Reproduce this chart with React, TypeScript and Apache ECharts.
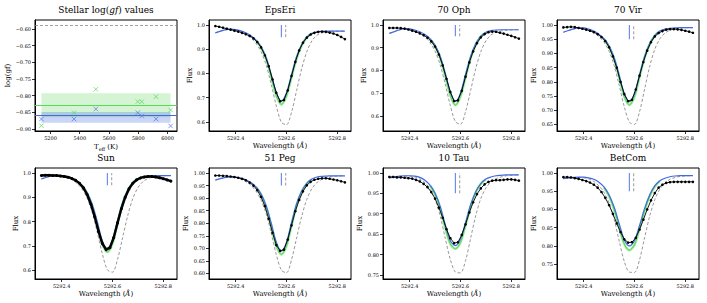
import React, { useEffect, useRef } from "react";
import * as echarts from "echarts";

// ---------- data ----------
const TEFF = [5138, 5361, 5510, 5797, 5824, 5922, 6021];
const LOGGF_GREEN = [-0.89, -0.851, -0.781, -0.818, -0.818, -0.803, -0.843];
const LOGGF_BLUE = [-0.87, -0.87, -0.84, -0.851, -0.861, -0.87, -0.891];
const GREEN_MEAN = -0.829;
const GREEN_BAND = [-0.865, -0.793];
const BLUE_MEAN = -0.865;
const BLUE_BAND = [-0.881, -0.849];
const LOGGF_REF = -0.588;
const TEFF_TICKS = [5200, 5400, 5600, 5800, 6000];
const LOGGF_TICKS = [-0.9, -0.85, -0.8, -0.75, -0.7, -0.65, -0.6];

const WL_TICKS = [5292.4, 5292.6, 5292.8];
const FIT_CENTER = 5292.58;
const LAB_CENTER = 5292.597;
const MARK_SPAN = [0.95, 1.0];

const WL_OBS = [5292.32, 5292.335, 5292.35, 5292.365, 5292.38, 5292.395, 5292.41, 5292.425, 5292.44, 5292.455, 5292.47, 5292.485, 5292.5, 5292.515, 5292.53, 5292.545, 5292.56, 5292.575, 5292.59, 5292.605, 5292.62, 5292.635, 5292.65, 5292.665, 5292.68, 5292.695, 5292.71, 5292.725, 5292.74, 5292.755, 5292.77, 5292.785, 5292.8, 5292.815, 5292.83];
const WL_MOD = [5292.32, 5292.34, 5292.36, 5292.38, 5292.4, 5292.42, 5292.44, 5292.46, 5292.48, 5292.5, 5292.52, 5292.54, 5292.56, 5292.58, 5292.6, 5292.62, 5292.64, 5292.66, 5292.68, 5292.7, 5292.72, 5292.74, 5292.76, 5292.78, 5292.8, 5292.82, 5292.83];
const WL_CORE = [5292.48, 5292.5, 5292.52, 5292.54, 5292.56, 5292.58, 5292.6, 5292.62, 5292.64, 5292.66, 5292.68, 5292.7];

const STARS = ["EpsEri", "70 Oph", "70 Vir", "Sun", "51 Peg", "10 Tau", "BetCom"];

const EPSERI_OBS = [0.996, 0.993, 0.989, 0.985, 0.981, 0.977, 0.973, 0.968, 0.962, 0.955, 0.945, 0.93, 0.908, 0.875, 0.83, 0.775, 0.72, 0.685, 0.69, 0.73, 0.79, 0.848, 0.895, 0.927, 0.948, 0.961, 0.968, 0.972, 0.973, 0.972, 0.969, 0.965, 0.959, 0.951, 0.942];
const EPSERI_FIT = [0.968, 0.975, 0.981, 0.983, 0.981, 0.976, 0.968, 0.956, 0.938, 0.91, 0.865, 0.795, 0.72, 0.685, 0.72, 0.795, 0.87, 0.92, 0.95, 0.966, 0.972, 0.974, 0.975, 0.975, 0.975, 0.975, 0.975];
const EPSERI_GREEN = [0.937, 0.907, 0.86, 0.785, 0.708, 0.672, 0.708, 0.785, 0.862, 0.916, 0.948, 0.965];
const EPSERI_LAB = [0.968, 0.975, 0.98, 0.982, 0.979, 0.973, 0.963, 0.948, 0.925, 0.89, 0.835, 0.755, 0.665, 0.598, 0.588, 0.64, 0.73, 0.82, 0.89, 0.935, 0.958, 0.968, 0.973, 0.975, 0.975, 0.975, 0.975];

const OPH70_OBS = [0.987, 0.987, 0.987, 0.986, 0.984, 0.98, 0.975, 0.97, 0.963, 0.955, 0.944, 0.928, 0.905, 0.87, 0.822, 0.763, 0.705, 0.665, 0.668, 0.71, 0.772, 0.835, 0.884, 0.92, 0.945, 0.96, 0.968, 0.971, 0.97, 0.966, 0.962, 0.957, 0.952, 0.946, 0.94];
const OPH70_FIT = [0.963, 0.971, 0.979, 0.984, 0.983, 0.978, 0.97, 0.958, 0.94, 0.91, 0.862, 0.788, 0.705, 0.663, 0.7, 0.782, 0.862, 0.917, 0.951, 0.968, 0.975, 0.978, 0.979, 0.979, 0.979, 0.979, 0.979];
const OPH70_GREEN = [0.938, 0.906, 0.855, 0.776, 0.69, 0.647, 0.686, 0.77, 0.855, 0.913, 0.949, 0.967];
const OPH70_LAB = [0.963, 0.971, 0.978, 0.982, 0.98, 0.974, 0.963, 0.947, 0.922, 0.885, 0.825, 0.74, 0.645, 0.574, 0.563, 0.618, 0.712, 0.808, 0.882, 0.93, 0.956, 0.968, 0.974, 0.977, 0.978, 0.979, 0.979];

const VIR70_OBS = [0.992, 0.993, 0.994, 0.993, 0.99, 0.987, 0.984, 0.98, 0.975, 0.968, 0.958, 0.944, 0.922, 0.89, 0.85, 0.8, 0.757, 0.732, 0.737, 0.773, 0.822, 0.87, 0.91, 0.94, 0.96, 0.972, 0.979, 0.984, 0.986, 0.986, 0.985, 0.983, 0.98, 0.977, 0.973];
const VIR70_FIT = [0.975, 0.981, 0.987, 0.99, 0.99, 0.986, 0.979, 0.968, 0.952, 0.926, 0.885, 0.823, 0.758, 0.73, 0.758, 0.825, 0.89, 0.935, 0.963, 0.979, 0.986, 0.989, 0.99, 0.991, 0.991, 0.991, 0.991];
const VIR70_GREEN = [0.951, 0.924, 0.881, 0.816, 0.748, 0.719, 0.748, 0.818, 0.886, 0.933, 0.962, 0.978];
const VIR70_LAB = [0.975, 0.981, 0.986, 0.989, 0.988, 0.983, 0.974, 0.96, 0.94, 0.908, 0.858, 0.787, 0.712, 0.658, 0.65, 0.695, 0.775, 0.855, 0.915, 0.952, 0.972, 0.982, 0.987, 0.99, 0.991, 0.991, 0.991];

const SUN_OBS = [0.99, 0.991, 0.991, 0.99, 0.99, 0.988, 0.986, 0.983, 0.978, 0.97, 0.958, 0.94, 0.912, 0.872, 0.82, 0.76, 0.71, 0.685, 0.693, 0.735, 0.795, 0.853, 0.9, 0.935, 0.958, 0.972, 0.98, 0.984, 0.986, 0.986, 0.984, 0.981, 0.977, 0.972, 0.967];
const SUN_FIT = [0.976, 0.983, 0.988, 0.99, 0.99, 0.987, 0.98, 0.968, 0.95, 0.92, 0.872, 0.8, 0.722, 0.69, 0.725, 0.805, 0.88, 0.93, 0.962, 0.978, 0.985, 0.988, 0.989, 0.99, 0.99, 0.99, 0.99];
const SUN_GREEN = [0.949, 0.917, 0.866, 0.79, 0.708, 0.675, 0.71, 0.795, 0.874, 0.927, 0.96, 0.977];
const SUN_LAB = [0.976, 0.983, 0.987, 0.989, 0.988, 0.983, 0.973, 0.958, 0.935, 0.898, 0.84, 0.757, 0.668, 0.602, 0.592, 0.645, 0.735, 0.825, 0.895, 0.94, 0.965, 0.978, 0.984, 0.987, 0.989, 0.99, 0.99];

const PEG51_OBS = [0.99, 0.99, 0.989, 0.988, 0.986, 0.984, 0.981, 0.977, 0.971, 0.962, 0.95, 0.932, 0.905, 0.868, 0.818, 0.762, 0.713, 0.69, 0.695, 0.735, 0.792, 0.848, 0.893, 0.927, 0.951, 0.965, 0.973, 0.977, 0.979, 0.979, 0.977, 0.974, 0.971, 0.967, 0.963];
const PEG51_FIT = [0.972, 0.978, 0.983, 0.985, 0.984, 0.98, 0.973, 0.962, 0.945, 0.916, 0.87, 0.8, 0.725, 0.69, 0.724, 0.803, 0.878, 0.928, 0.959, 0.976, 0.984, 0.987, 0.988, 0.989, 0.989, 0.989, 0.989];
const PEG51_GREEN = [0.944, 0.913, 0.864, 0.79, 0.71, 0.676, 0.71, 0.792, 0.872, 0.925, 0.958, 0.975];
const PEG51_LAB = [0.972, 0.978, 0.982, 0.984, 0.982, 0.976, 0.966, 0.951, 0.928, 0.892, 0.838, 0.76, 0.675, 0.613, 0.603, 0.655, 0.742, 0.828, 0.895, 0.938, 0.962, 0.975, 0.982, 0.986, 0.988, 0.989, 0.989];

const TAU10_OBS = [0.99, 0.99, 0.989, 0.989, 0.988, 0.987, 0.986, 0.983, 0.979, 0.973, 0.965, 0.953, 0.937, 0.915, 0.89, 0.862, 0.84, 0.828, 0.83, 0.848, 0.874, 0.903, 0.928, 0.948, 0.962, 0.972, 0.978, 0.981, 0.982, 0.982, 0.983, 0.984, 0.984, 0.983, 0.981];
const TAU10_FIT = [0.988, 0.99, 0.992, 0.993, 0.993, 0.992, 0.989, 0.982, 0.97, 0.95, 0.918, 0.873, 0.834, 0.822, 0.838, 0.878, 0.922, 0.954, 0.974, 0.985, 0.99, 0.993, 0.994, 0.995, 0.995, 0.995, 0.995];
const TAU10_GREEN = [0.969, 0.948, 0.914, 0.866, 0.826, 0.814, 0.83, 0.872, 0.918, 0.952, 0.973, 0.984];
const TAU10_LAB = [0.988, 0.99, 0.991, 0.992, 0.992, 0.99, 0.985, 0.976, 0.96, 0.935, 0.895, 0.84, 0.788, 0.757, 0.755, 0.785, 0.84, 0.895, 0.937, 0.963, 0.978, 0.986, 0.99, 0.993, 0.994, 0.995, 0.995];

const BETCOM_OBS = [0.989, 0.989, 0.988, 0.986, 0.984, 0.981, 0.978, 0.974, 0.968, 0.96, 0.948, 0.932, 0.912, 0.888, 0.862, 0.838, 0.818, 0.809, 0.81, 0.822, 0.845, 0.872, 0.9, 0.925, 0.945, 0.96, 0.968, 0.973, 0.975, 0.976, 0.976, 0.976, 0.976, 0.976, 0.976];
const BETCOM_FIT = [0.985, 0.987, 0.988, 0.989, 0.989, 0.987, 0.983, 0.975, 0.962, 0.94, 0.906, 0.86, 0.817, 0.8, 0.815, 0.856, 0.903, 0.94, 0.965, 0.979, 0.986, 0.99, 0.992, 0.993, 0.993, 0.993, 0.993];
const BETCOM_GREEN = [0.96, 0.937, 0.9, 0.851, 0.805, 0.788, 0.803, 0.848, 0.897, 0.937, 0.963, 0.978];
const BETCOM_LAB = [0.985, 0.987, 0.988, 0.988, 0.987, 0.984, 0.977, 0.965, 0.947, 0.918, 0.873, 0.813, 0.757, 0.728, 0.727, 0.762, 0.823, 0.882, 0.927, 0.956, 0.973, 0.983, 0.988, 0.991, 0.992, 0.993, 0.993];

const FLUX_TICKS_A = [0.6, 0.7, 0.8, 0.9, 1.0];
const FLUX_TICKS_B = [0.6, 0.65, 0.7, 0.75, 0.8, 0.85, 0.9, 0.95, 1.0];
const FLUX_TICKS_C = [0.65, 0.7, 0.75, 0.8, 0.85, 0.9, 0.95, 1.0];
const FLUX_TICKS_D = [0.75, 0.8, 0.85, 0.9, 0.95, 1.0];

// ---------- layout ----------
const COL_LEFT = [35, 209, 383, 557];
const ROW_TOP = [20, 168];
const PW = 142;
const PH = 111;
const FONT = "'DejaVu Serif', serif";
const C_BLUE = "#4169e1";
const C_GREEN = "#4fcf4f";

const PANELS = [
  { name: STARS[0], obs: EPSERI_OBS, fit: EPSERI_FIT, green: EPSERI_GREEN, lab: EPSERI_LAB, min: 0.562, max: 1.021, ticks: FLUX_TICKS_A, dec: 1, gap: 12, thick: false },
  { name: STARS[1], obs: OPH70_OBS, fit: OPH70_FIT, green: OPH70_GREEN, lab: OPH70_LAB, min: 0.533, max: 1.022, ticks: FLUX_TICKS_A, dec: 1, gap: 12, thick: false },
  { name: STARS[2], obs: VIR70_OBS, fit: VIR70_FIT, green: VIR70_GREEN, lab: VIR70_LAB, min: 0.627, max: 1.018, ticks: FLUX_TICKS_C, dec: 2, gap: 16, thick: false },
  { name: STARS[3], obs: SUN_OBS, fit: SUN_FIT, green: SUN_GREEN, lab: SUN_LAB, min: 0.564, max: 1.021, ticks: FLUX_TICKS_A, dec: 1, gap: 12, thick: true },
  { name: STARS[4], obs: PEG51_OBS, fit: PEG51_FIT, green: PEG51_GREEN, lab: PEG51_LAB, min: 0.578, max: 1.02, ticks: FLUX_TICKS_B, dec: 2, gap: 16, thick: false },
  { name: STARS[5], obs: TAU10_OBS, fit: TAU10_FIT, green: TAU10_GREEN, lab: TAU10_LAB, min: 0.74, max: 1.012, ticks: FLUX_TICKS_D, dec: 2, gap: 16, thick: false },
  { name: STARS[6], obs: BETCOM_OBS, fit: BETCOM_FIT, green: BETCOM_GREEN, lab: BETCOM_LAB, min: 0.709, max: 1.014, ticks: FLUX_TICKS_D, dec: 2, gap: 16, thick: false },
];

const pair = (xs: number[], ys: number[]) => xs.map((x, i) => [x, ys[i]]);
const fmt = (v: number, d: number) => (v < 0 ? "\u2212" : "") + Math.abs(v).toFixed(d);

const X_MARK = "path://M0,0L10,10M10,0L0,10";
const NAME_STYLE = { fontSize: 7, fontFamily: FONT, color: "#000", fontWeight: "normal" as const };

function axisBase() {
  return {
    type: "value" as const,
    axisLine: { show: true, onZero: false, lineStyle: { color: "#000", width: 1 } },
    splitLine: { show: false },
    nameTextStyle: NAME_STYLE,
  };
}
const ticks = (vals: number[]) => ({ show: true, length: 3, lineStyle: { color: "#000", width: 0.8 }, customValues: vals });
const labels = (vals: number[], f: (v: number) => string) => ({ fontSize: 5, fontFamily: FONT, color: "#000", margin: 4, customValues: vals, formatter: f });

function buildOption() {
  const grid: any[] = [];
  const xAxis: any[] = [];
  const yAxis: any[] = [];
  const series: any[] = [];
  const graphic: any[] = [];

  for (let k = 0; k < 8; k++) {
    const col = k % 4;
    const row = Math.floor(k / 4);
    const left = COL_LEFT[col];
    const top = ROW_TOP[row];
    grid.push({ left, top, width: PW, height: PH, show: true, borderColor: "#000", borderWidth: 1, backgroundColor: "transparent" });
    graphic.push({
      type: "text",
      x: left + PW / 2,
      y: top - 10,
      silent: true,
      style: {
        text: k === 0 ? "Stellar log({i|gf}) values" : PANELS[k - 1].name,
        fontSize: 9,
        fontFamily: FONT,
        fill: "#000",
        textAlign: "center",
        textVerticalAlign: "middle",
        rich: { i: { fontStyle: "italic", fontSize: 9, fontFamily: FONT, fill: "#000" } },
      },
    });
  }

  // panel 0: log(gf)
  xAxis.push({
    ...axisBase(),
    gridIndex: 0,
    min: 5094,
    max: 6065,
    name: "T{s|eff} (K)",
    nameLocation: "middle",
    nameGap: 11,
    nameTextStyle: { ...NAME_STYLE, rich: { s: { fontSize: 5, fontFamily: FONT, color: "#000", padding: [4, 0, 0, 0] } } },
    axisTick: ticks(TEFF_TICKS),
    axisLabel: labels(TEFF_TICKS, (v: number) => String(Math.round(v))),
  });
  yAxis.push({
    ...axisBase(),
    gridIndex: 0,
    min: -0.906,
    max: -0.573,
    name: "log(gf)",
    nameLocation: "middle",
    nameGap: 20,
    axisTick: ticks(LOGGF_TICKS),
    axisLabel: labels(LOGGF_TICKS, (v: number) => fmt(v, 2)),
  });
  const tMin = Math.min(...TEFF);
  const tMax = Math.max(...TEFF);
  series.push({
    type: "scatter",
    xAxisIndex: 0,
    yAxisIndex: 0,
    data: pair(TEFF, LOGGF_GREEN),
    symbol: X_MARK,
    symbolSize: 4.5,
    itemStyle: { color: "none", borderColor: "#5ad85a", borderWidth: 0.9 },
    z: 5,
    markArea: {
      silent: true,
      itemStyle: { color: "rgba(60,205,60,0.22)" },
      data: [[{ coord: [tMin, GREEN_BAND[1]] }, { coord: [tMax, GREEN_BAND[0]] }]],
    },
    markLine: {
      silent: true,
      symbol: "none",
      label: { show: false },
      data: [
        { yAxis: GREEN_MEAN, lineStyle: { color: "#5ad85a", width: 1, type: "solid" } },
        { yAxis: LOGGF_REF, lineStyle: { color: "#888", width: 0.8, type: [3, 2] } },
      ],
    },
  });
  series.push({
    type: "scatter",
    xAxisIndex: 0,
    yAxisIndex: 0,
    data: pair(TEFF, LOGGF_BLUE),
    symbol: X_MARK,
    symbolSize: 4.5,
    itemStyle: { color: "none", borderColor: "#5577e6", borderWidth: 0.9 },
    z: 5,
    markArea: {
      silent: true,
      itemStyle: { color: "rgba(65,105,225,0.28)" },
      data: [[{ coord: [tMin, BLUE_BAND[1]] }, { coord: [tMax, BLUE_BAND[0]] }]],
    },
    markLine: {
      silent: true,
      symbol: "none",
      label: { show: false },
      data: [{ yAxis: BLUE_MEAN, lineStyle: { color: C_BLUE, width: 1, type: "solid" } }],
    },
  });

  // spectral panels
  PANELS.forEach((p, j) => {
    const k = j + 1;
    xAxis.push({
      ...axisBase(),
      gridIndex: k,
      min: 5292.295,
      max: 5292.854,
      name: "Wavelength ({i|Å})",
      nameLocation: "middle",
      nameGap: 11,
      nameTextStyle: { ...NAME_STYLE, rich: { i: { fontStyle: "italic", fontSize: 7, fontFamily: FONT, color: "#000" } } },
      axisTick: ticks(WL_TICKS),
      axisLabel: labels(WL_TICKS, (v: number) => v.toFixed(1)),
    });
    yAxis.push({
      ...axisBase(),
      gridIndex: k,
      min: p.min,
      max: p.max,
      name: "Flux",
      nameLocation: "middle",
      nameGap: p.gap,
      axisTick: ticks(p.ticks),
      axisLabel: labels(p.ticks, (v: number) => fmt(v, p.dec)),
    });
    const base = { type: "line", xAxisIndex: k, yAxisIndex: k, showSymbol: false, silent: true };
    series.push({ ...base, data: pair(WL_MOD, p.lab), smooth: 0.3, lineStyle: { color: "#8c8c8c", width: 0.9, type: [3, 2] } });
    series.push({ ...base, data: pair(WL_CORE, p.green), smooth: 0.3, lineStyle: { color: "rgba(140,232,140,0.8)", width: 2.6 } });
    series.push({ ...base, data: pair(WL_CORE, p.green), smooth: 0.3, lineStyle: { color: C_GREEN, width: 0.9 } });
    series.push({ ...base, data: pair(WL_MOD, p.fit), smooth: 0.3, lineStyle: { color: C_BLUE, width: 1.2 } });
    series.push({
      ...base,
      data: pair(WL_OBS, p.obs),
      showSymbol: true,
      symbol: "circle",
      symbolSize: p.thick ? 3 : 2.6,
      itemStyle: { color: "#000" },
      lineStyle: { color: "#000", width: p.thick ? 2.4 : 0.9 },
    });
    series.push({ ...base, data: [[FIT_CENTER, MARK_SPAN[0]], [FIT_CENTER, MARK_SPAN[1]]], lineStyle: { color: "#6f8fe8", width: 1.2 } });
    series.push({ ...base, data: [[LAB_CENTER, MARK_SPAN[0]], [LAB_CENTER, MARK_SPAN[1]]], lineStyle: { color: "#8c8c8c", width: 0.9, type: [3, 2] } });
  });

  return { animation: false, backgroundColor: "#fff", grid, xAxis, yAxis, series, graphic };
}

export default function App() {
  const ref = useRef<HTMLDivElement>(null);
  useEffect(() => {
    if (!ref.current) return;
    const chart = echarts.init(ref.current, undefined, { renderer: "svg" });
    chart.setOption(buildOption() as any);
    return () => chart.dispose();
  }, []);
  return <div ref={ref} style={{ position: "fixed", left: 0, top: 0, width: 707, height: 303 }} />;
}
